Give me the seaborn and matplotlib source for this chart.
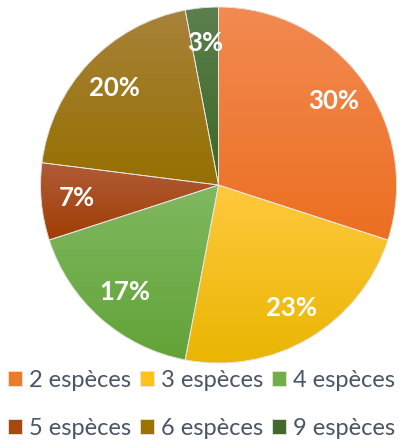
import matplotlib
matplotlib.use("Agg")
import numpy as np
import matplotlib.pyplot as plt
from matplotlib.colors import to_rgb
from matplotlib.patches import Wedge
import seaborn as sns

labels = ["2 espèces", "3 espèces", "4 espèces", "5 espèces", "6 espèces", "9 espèces"]
shares = [30, 23, 17, 7, 20, 3]
colors = ["#EE7A2E", "#FFC21A", "#71AE48", "#A8470F", "#9C7300", "#43692C"]
# lighter top / darker bottom shade for each slice (gradient fill)
tops = ["#F28A52", "#FFC93E", "#80B860", "#B05C38", "#A8823A", "#5C7F4E"]
bottoms = ["#EC6F20", "#E9B500", "#62A338", "#A03E04", "#967000", "#3C6823"]

sns.set_theme(style="white")
plt.rcParams["font.family"] = ["Lato", "DejaVu Sans"]

fig = plt.figure(figsize=(4.06, 4.40), dpi=100)
ax = fig.add_axes([0.0998, 0.175, 0.877, 0.809])

wedges, texts, autotexts = ax.pie(
    shares, colors=sns.color_palette(colors), startangle=90, counterclock=False,
    autopct="%d%%", pctdistance=0.8, radius=1,
    wedgeprops=dict(edgecolor="#E6E6E6", linewidth=0.6),
    textprops=dict(color="white", fontsize=18.5, fontweight="bold"))

# vertical gradient clipped to each wedge
for w, top, bot in zip(wedges, tops, bottoms):
    verts = w.get_patch_transform().transform(w.get_path().vertices)
    x0, x1 = verts[:, 0].min(), verts[:, 0].max()
    y0, y1 = verts[:, 1].min(), verts[:, 1].max()
    t = np.linspace(0, 1, 200)[:, None]
    grad = (1 - t) * np.array(to_rgb(top)) + t * np.array(to_rgb(bot))
    im = ax.imshow(grad[:, None, :], extent=[x0, x1, y0, y1], aspect="auto",
                   origin="upper", zorder=w.get_zorder() + 0.1, interpolation="bilinear")
    im.set_clip_path(w)
for w in wedges:
    ax.add_patch(Wedge(w.center, w.r, w.theta1, w.theta2, fill=False,
                       edgecolor="#E6E6E6", linewidth=0.6, zorder=3))
for t in autotexts:
    t.set_zorder(5)
ax.set_xlim(-1, 1)
ax.set_ylim(-1, 1)
ax.set_aspect("equal")

order = [0, 3, 1, 4, 2, 5]
fig.legend([wedges[i] for i in order], [labels[i] for i in order], ncol=3,
           loc="upper left", bbox_to_anchor=(0.02, 0.16),
           frameon=False, handlelength=0.6, handleheight=0.6, handletextpad=0.3,
           columnspacing=0.35, labelspacing=1.16, borderpad=0, borderaxespad=0,
           prop=dict(size=17), labelcolor="#4A5568")

fig.savefig("out.png", dpi=100)
